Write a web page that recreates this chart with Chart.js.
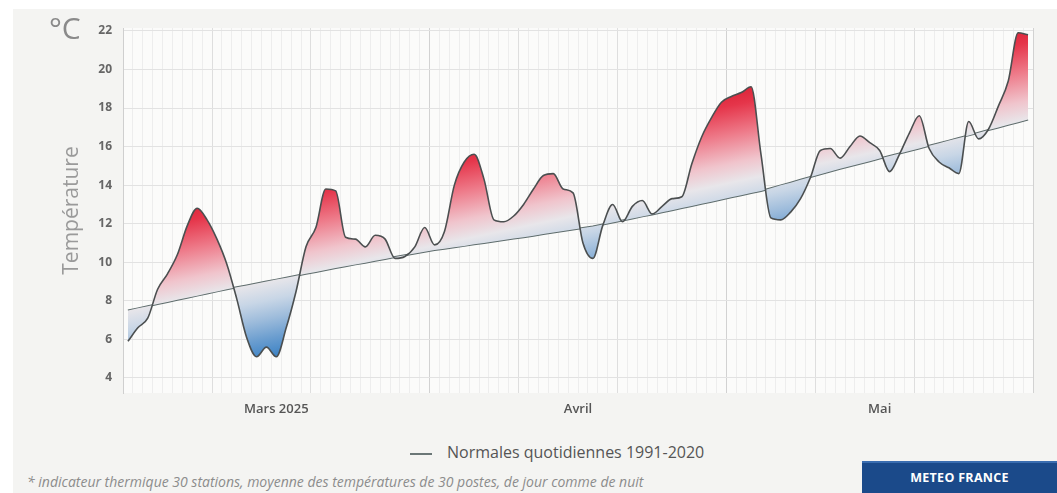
<!DOCTYPE html>
<html lang="fr">
<head>
<meta charset="utf-8">
<title>Indicateur thermique national</title>
<script src="https://cdn.jsdelivr.net/npm/chart.js@4.4.1/dist/chart.umd.min.js"></script>
<style>
  html, body { margin: 0; padding: 0; background: #fff; }
  body { width: 1057px; height: 493px; overflow: hidden; position: relative; font-family: "Open Sans", sans-serif; }
  #fond { position: absolute; left: 13px; top: 9px; right: 0; bottom: 0; background: #f4f4f2; }
  #zone { position: absolute; left: 0; top: 0; width: 1057px; height: 420px; }
  #unite { position: absolute; left: 49px; top: 7px; font-size: 30px; color: #8a8a8a; }
  #legende { position: absolute; left: 410px; top: 440px; font-size: 16px; color: #555; line-height: 24px; white-space: nowrap; }
  #legende .trait { display: inline-block; width: 22px; height: 2px; background: #6b7777; vertical-align: middle; margin-right: 15px; }
  #note { position: absolute; left: 27px; top: 472px; font-size: 14px; font-style: italic; color: #8c8c8c; white-space: nowrap; }
  #marque { position: absolute; left: 862px; top: 461px; width: 195px; height: 30px; line-height: 30px; background: #1b4a8a; border-top: 2px solid #3a6db0;
            color: #fff; font-weight: bold; font-size: 12.5px; text-align: center; letter-spacing: 0.3px; }
</style>
</head>
<body>
<div id="fond"></div>
<div id="zone"><canvas id="graphique"></canvas></div>
<div id="unite">°C</div>
<div id="legende"><span class="trait"></span>Normales quotidiennes 1991-2020</div>
<div id="note">* indicateur thermique 30 stations, moyenne des températures de 30 postes, de jour comme de nuit</div>
<div id="marque">METEO FRANCE</div>

<script>
// Données : du 1er mars au 31 mai 2025, une valeur par jour
const mois = ['Mars 2025', 'Avril', 'Mai'];
const joursParMois = [31, 30, 31];
const graduationsY = [4, 6, 8, 10, 12, 14, 16, 18, 20, 22];

// Indicateur thermique quotidien (°C)
const temperatures = [
  5.9, 6.6, 7.1, 8.6, 9.4, 10.4, 11.9, 12.8, 12.2, 11.2,
  9.9, 8.1, 6.1, 5.1, 5.6, 5.1, 6.6, 8.5, 10.8, 11.8,
  13.8, 13.7, 11.3, 11.2, 10.8, 11.4, 11.2, 10.2, 10.3, 10.8,
  11.8,
  10.9, 11.6, 14.0, 15.2, 15.6, 14.3, 12.2, 12.1, 12.4, 13.0,
  13.8, 14.5, 14.6, 13.8, 13.6, 11.0, 10.2, 11.9, 13.0, 12.1,
  12.9, 13.2, 12.5, 12.9, 13.3, 13.4, 15.1, 16.5, 17.5, 18.3,
  18.6, 18.8, 19.1, 15.6, 12.3, 12.2, 12.6, 13.3, 14.4, 15.8,
  15.9, 15.4, 16.0, 16.55, 16.2, 15.8, 14.7, 15.6, 16.7, 17.6,
  15.9, 15.2, 14.9, 14.6, 17.3, 16.4, 16.9, 18.1, 19.4, 21.9,
  21.8
];

// Normales quotidiennes 1991-2020 (°C)
const normales = [
  7.50, 7.61, 7.72, 7.83, 7.94, 8.05, 8.16, 8.27, 8.38, 8.49,
  8.60, 8.70, 8.80, 8.90, 9.00, 9.10, 9.20, 9.30, 9.40, 9.50,
  9.60, 9.70, 9.79, 9.89, 9.98, 10.08, 10.17, 10.27, 10.36, 10.46,
  10.55,
  10.63, 10.70, 10.78, 10.85, 10.93, 11.00, 11.08, 11.15, 11.23, 11.30,
  11.38, 11.46, 11.54, 11.62, 11.70, 11.78, 11.85, 11.96, 12.06, 12.17,
  12.27, 12.38, 12.48, 12.59, 12.70, 12.81, 12.92, 13.03, 13.14, 13.26,
  13.37, 13.48, 13.59, 13.70, 13.84, 13.99, 14.13, 14.28, 14.42, 14.56,
  14.71, 14.85, 14.98, 15.11, 15.24, 15.38, 15.51, 15.64, 15.77, 15.90,
  16.04, 16.17, 16.31, 16.45, 16.58, 16.72, 16.86, 16.99, 17.13, 17.26,
  17.40
];

// Libellés des jours, débuts de mois et repères des décades
const jours = [];
const debutsMois = [];
const decades = [];
const centresMois = [];
joursParMois.forEach((n, m) => {
  const debut = jours.length;
  debutsMois.push(debut);
  decades.push(debut + 9, debut + 19);
  centresMois.push(debut + (n - 1) / 2);
  for (let d = 1; d <= n; d++) jours.push(d + '/' + (m + 3));
});
debutsMois.push(jours.length);

// Couleur selon l'écart à la normale (rouge au-dessus, bleu en dessous)
const paliers = [
  [5.5, '#d5172a'], [4, '#e5354a'], [2.5, '#ee7b8a'], [1, '#f0c4cc'], [0, '#e8e6ea'],
  [-1, '#c8d6e6'], [-2, '#9cbbdb'], [-3, '#6a9dcf'], [-4, '#3d83c5']
];
const ECART_MAX = 6;

function degrade(ctx) {
  const chart = ctx.chart;
  const { chartArea, scales } = chart;
  if (!chartArea) return 'rgba(0,0,0,0)';
  const n = normales.length - 1;
  const x0 = scales.x.getPixelForValue(0), y0 = scales.y.getPixelForValue(normales[0]);
  const x1 = scales.x.getPixelForValue(n), y1 = scales.y.getPixelForValue(normales[n]);
  const len = Math.hypot(x1 - x0, y1 - y0);
  const dx = (x1 - x0) / len, dy = (y1 - y0) / len;
  const px = -dy, py = dx; // perpendiculaire à la droite des normales, vers le bas
  const parDegre = scales.y.getPixelForValue(0) - scales.y.getPixelForValue(1);
  const L = ECART_MAX * parDegre * Math.abs(dx);
  const mx = (x0 + x1) / 2, my = (y0 + y1) / 2;
  const g = chart.ctx.createLinearGradient(mx - px * L, my - py * L, mx + px * L, my + py * L);
  paliers.forEach(([a, c]) => g.addColorStop(0.5 - a / (2 * ECART_MAX), c));
  return g;
}

// Fond blanc de la zone de tracé
const fondZone = {
  id: 'fondZone',
  beforeDraw(chart) {
    const { ctx, chartArea: a } = chart;
    ctx.save();
    ctx.fillStyle = '#fbfbfa';
    ctx.fillRect(a.left, a.top, a.right - a.left, a.bottom - a.top);
    ctx.restore();
  }
};

new Chart(document.getElementById('graphique'), {
  type: 'line',
  data: {
    labels: jours,
    datasets: [
      {
        label: 'Indicateur thermique',
        data: temperatures,
        xAxisID: 'x',
        borderColor: '#4b4f50',
        borderWidth: 1.6,
        pointRadius: 0,
        cubicInterpolationMode: 'monotone',
        fill: 1,
        backgroundColor: degrade
      },
      {
        label: 'Normales quotidiennes 1991-2020',
        data: normales,
        xAxisID: 'x',
        borderColor: '#5e6c6c',
        borderWidth: 2,
        pointRadius: 0,
        tension: 0,
        fill: false
      }
    ]
  },
  options: {
    responsive: true,
    maintainAspectRatio: false,
    animation: false,
    devicePixelRatio: 1,
    layout: { padding: { top: 28, right: 24, left: 0, bottom: 0 } },
    plugins: { legend: { display: false }, tooltip: { enabled: false } },
    scales: {
      x: {
        type: 'category',
        offset: true,
        afterFit: s => { s.height = 0; },
        grid: {
          offset: true,
          drawTicks: false,
          color: c => (c.index === undefined || debutsMois.includes(c.index)) ? '#d2d2d2'
            : (decades.includes(c.index) ? '#dedede' : '#ededed')
        },
        border: { display: false },
        ticks: { display: false, autoSkip: false }
      },
      x2: {
        type: 'linear',
        position: 'bottom',
        min: -0.5,
        max: temperatures.length - 0.5,
        afterBuildTicks: s => { s.ticks = centresMois.map(v => ({ value: v })); },
        afterFit: s => { s.height = 27; },
        grid: { display: false, drawTicks: false },
        border: { display: false },
        ticks: { autoSkip: false, maxRotation: 0, padding: 8, color: '#555',
                 font: { family: 'Open Sans', size: 13, weight: '600' },
                 callback: (v, i) => mois[i] }
      },
      y: {
        min: 3.22,
        max: 22.15,
        afterBuildTicks: s => { s.ticks = graduationsY.map(v => ({ value: v })); },
        afterFit: s => { s.width = 123; },
        grid: { color: '#e2e2e2', drawTicks: false },
        border: { display: true, color: '#cfcfcf' },
        ticks: { padding: 11, color: '#666', font: { family: 'Open Sans', size: 12, weight: 'bold' } },
        title: { display: true, text: 'Température', color: '#9a9a9a',
                 font: { family: 'Open Sans', size: 21 }, padding: { top: 59, bottom: 0 } }
      }
    }
  },
  plugins: [fondZone]
});
</script>
</body>
</html>
